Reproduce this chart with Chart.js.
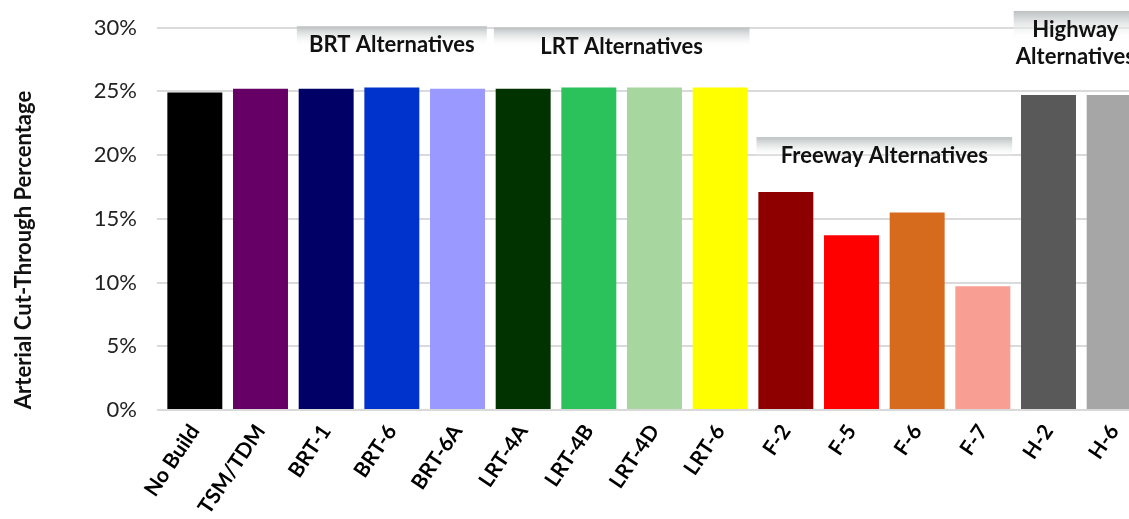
<!DOCTYPE html>
<html>
<head>
<meta charset="utf-8">
<script src="https://cdn.jsdelivr.net/npm/chart.js@4.4.1/dist/chart.umd.min.js"></script>
<style>
  html, body { margin: 0; padding: 0; background: #fff; overflow: hidden; }
  #wrap { position: absolute; left: 0; top: 0; width: 1147px; height: 519px; }
</style>
</head>
<body>
<div id="wrap"><canvas id="chart"></canvas></div>
<script>
// Alternatives compared and their arterial cut-through share (%)
const categories = ['No Build', 'TSM/TDM', 'BRT-1', 'BRT-6', 'BRT-6A', 'LRT-4A', 'LRT-4B', 'LRT-4D', 'LRT-6',
                    'F-2', 'F-5', 'F-6', 'F-7', 'H-2', 'H-6'];
const cutThrough = [24.9, 25.2, 25.2, 25.3, 25.2, 25.2, 25.3, 25.3, 25.3, 17.1, 13.7, 15.5, 9.7, 24.7, 24.7];
const barColors = ['#000000', '#660066', '#000066', '#0033CC', '#9999FF', '#003300', '#2BC25C', '#A7D69F', '#FFFF00',
                   '#8E0000', '#FF0000', '#D66B1E', '#F99E92', '#595959', '#A6A6A6'];
const yTicks = [0, 5, 10, 15, 20, 25, 30];

// Alternative families, spanning category indices
const groupNames = ['BRT Alternatives', 'LRT Alternatives', 'Freeway Alternatives', 'Highway\nAlternatives'];
const groupFirst = [2, 5, 9, 13];
const groupLast = [4, 8, 12, 14];

const FONT = 'Lato, "Open Sans", sans-serif';

// Shaded header boxes naming each family of alternatives
const groupHeaders = {
  id: 'groupHeaders',
  beforeDatasetsDraw(chart, args, opts) {
    const { ctx } = chart;
    const x = chart.scales.x, y = chart.scales.y;
    const half = (x.getPixelForValue(1) - x.getPixelForValue(0)) / 2;
    groupNames.forEach((name, i) => {
      const left = x.getPixelForValue(groupFirst[i]) - half + opts.inset[i];
      const right = x.getPixelForValue(groupLast[i]) + half - opts.inset[i];
      const top = y.getPixelForValue(opts.tops[i]);
      const lines = name.split('\n');
      const h = opts.boxHeight + (lines.length - 1) * 10;
      const g = ctx.createLinearGradient(0, top, 0, top + h);
      g.addColorStop(0, '#bcc0c0');
      g.addColorStop(0.45, 'rgba(225,228,228,0.75)');
      g.addColorStop(1, 'rgba(255,255,255,0)');
      ctx.save();
      ctx.fillStyle = g;
      ctx.fillRect(left, top, right - left, h);
      ctx.fillStyle = '#111';
      ctx.font = 'bold 22px ' + FONT;
      ctx.textAlign = 'center';
      ctx.textBaseline = 'middle';
      const cx = (left + right) / 2 + opts.shift[i];
      lines.forEach((ln, k) => ctx.fillText(ln, cx, top + 19 + k * 27));
      ctx.restore();
    });
  }
};

// Vertical axis title, centred on the canvas height
const yTitle = {
  id: 'yTitle',
  afterDraw(chart) {
    const { ctx } = chart;
    ctx.save();
    ctx.translate(24, 250);
    ctx.rotate(-Math.PI / 2);
    ctx.fillStyle = '#111';
    ctx.font = 'bold 22px ' + FONT;
    ctx.textAlign = 'center';
    ctx.textBaseline = 'middle';
    ctx.fillText('Arterial Cut-Through Percentage', 0, 0);
    ctx.restore();
  }
};

new Chart(document.getElementById('chart'), {
  type: 'bar',
  data: {
    labels: categories,
    datasets: [{
      data: cutThrough,
      backgroundColor: barColors,
      borderWidth: 0,
      barPercentage: 0.837,
      categoryPercentage: 1.0
    }]
  },
  options: {
    responsive: true,
    maintainAspectRatio: false,
    devicePixelRatio: 1,
    animation: false,
    layout: { autoPadding: false, padding: { top: 27.5, left: 0, right: 0, bottom: 0 } },
    plugins: {
      legend: { display: false },
      tooltip: { enabled: false },
      groupHeaders: {
        inset: [3.5, 3.5, 3.5, -2],
        shift: [0, 0, 0, -6],
        boxHeight: 20,
        tops: [30.1, 30.0, 21.4, 31.3]
      }
    },
    scales: {
      x: {
        grid: { display: false },
        border: { display: true, color: '#d9d9d9', width: 2 },
        ticks: {
          autoSkip: false,
          minRotation: 56,
          maxRotation: 56,
          padding: 2,
          color: '#000',
          font: { family: FONT, size: 21, weight: 'bold' }
        },
        afterFit(s) { s.height = 109; s.paddingLeft = 0; s.paddingRight = 0; }
      },
      y: {
        min: 0,
        max: 30,
        afterBuildTicks(s) { s.ticks = yTicks.map(v => ({ value: v })); },
        grid: { color: '#dadada', lineWidth: 2, tickLength: 5, drawTicks: true },
        border: { display: false },
        ticks: {
          padding: 20,
          color: '#222',
          font: { family: FONT, size: 22 },
          callback: v => v + '%'
        },
        afterFit(s) { s.width = 162; s.paddingTop = 0; s.paddingBottom = 0; }
      }
    }
  },
  plugins: [groupHeaders, yTitle]
});
</script>
</body>
</html>
